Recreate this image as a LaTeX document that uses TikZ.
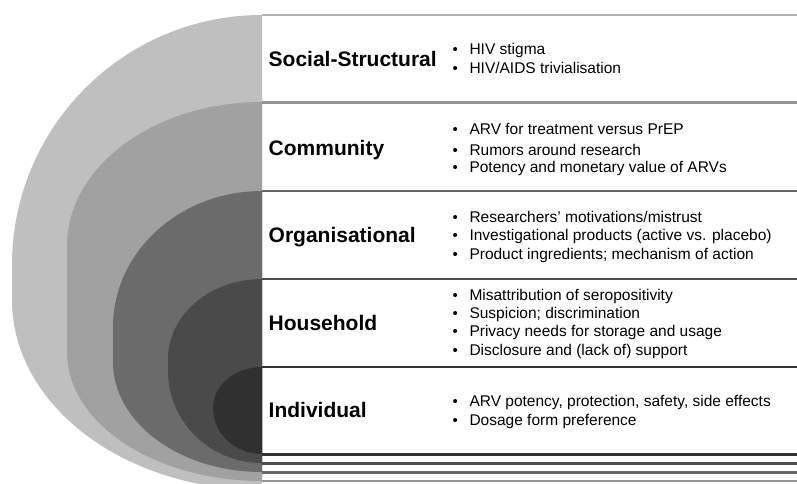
\documentclass[tikz,border=0pt]{standalone}
\usepackage{fontspec}
\setmainfont{Liberation Sans}
\definecolor{cA}{gray}{0.75}
\definecolor{cB}{gray}{0.63}
\definecolor{cC}{gray}{0.42}
\definecolor{cD}{gray}{0.29}
\definecolor{cE}{gray}{0.19}
\definecolor{lA}{gray}{0.70}
\definecolor{lB}{gray}{0.58}
\definecolor{lC}{gray}{0.40}
\definecolor{lD}{gray}{0.30}
\definecolor{lE}{gray}{0.20}
% layer: #1 fill, #2 half width, #3 top, #4 upper centre, #5 lower centre, #6 bottom
\newcommand\mylayer[6]{%
  \fill[#1] (262,-#3)
    arc[start angle=90,end angle=180,x radius=#2pt,y radius={(#4-#3)*1pt}]
    -- ({262-#2},-#5)
    arc[start angle=180,end angle=270,x radius=#2pt,y radius={(#6-#5)*1pt}]
    -- cycle;
}
\newcommand\itm[1]{\makebox[16.8pt][l]{\fontsize{15pt}{15pt}\selectfont\textbullet}#1}
\tikzset{
  lvl/.style={anchor=base west,inner sep=0pt,font=\fontsize{21pt}{21pt}\selectfont\bfseries},
  bul/.style={anchor=base west,inner sep=0pt,font=\fontsize{15.5pt}{15.5pt}\selectfont},
  sep/.style={line width=2.6pt}
}
\begin{document}
\begin{tikzpicture}[x=1pt,y=1pt]
\useasboundingbox (0,0) rectangle (797,-484);
\clip (0,0) rectangle (797,-484);
\fill[white] (0,0) rectangle (797,-484);
% layers
\mylayer{cA}{250}{15}{265}{300}{490}
\mylayer{cB}{195}{102}{246}{352}{481}
\mylayer{cC}{149}{191}{327}{362}{472}
\mylayer{cD}{94}{279}{359}{371}{463}
\mylayer{cE}{49}{367}{408}{408}{454}
% separators
\draw[sep,lA] (262,-15) -- (797,-15);
\draw[sep,lB] (262,-102.5) -- (797,-102.5);
\draw[sep,lC] (262,-191) -- (797,-191);
\draw[sep,lD] (262,-279) -- (797,-279);
\draw[sep,lE] (262,-367) -- (797,-367);
\draw[sep,lE] (262,-454.5) -- (797,-454.5);
\draw[sep,lD] (262,-463.3) -- (797,-463.3);
\draw[sep,lC] (262,-472.3) -- (797,-472.3);
\draw[sep,lB] (262,-481) -- (797,-481);
% labels
\node[lvl] (social) at (268.5,-66.5) {Social-Structural};
\node[lvl] (community) at (268.5,-155) {Community};
\node[lvl] (organisational) at (268.5,-242) {Organisational};
\node[lvl] (household) at (268.5,-330.7) {Household};
\node[lvl] (individual) at (268.5,-417) {Individual};
% bullets
\node[bul] (s1) at (452.5,-55) {\itm{HIV stigma}};
\node[bul] (s2) at (452.5,-74) {\itm{HIV/AIDS trivialisation}};
\node[bul] (c1) at (452.5,-134) {\itm{ARV for treatment versus PrEP}};
\node[bul] (c2) at (452.5,-155) {\itm{Rumors around research}};
\node[bul] (c3) at (452.5,-172.7) {\itm{Potency and monetary value of ARVs}};
\node[bul] (o1) at (452.5,-222) {\itm{Researchers’ motivations/mistrust}};
\node[bul] (o2) at (452.5,-240) {\itm{Investigational products (active vs. placebo)}};
\node[bul] (o3) at (452.5,-259) {\itm{Product ingredients; mechanism of action}};
\node[bul] (h1) at (452.5,-300) {\itm{Misattribution of seropositivity}};
\node[bul] (h2) at (452.5,-318.3) {\itm{Suspicion; discrimination}};
\node[bul] (h3) at (452.5,-336.7) {\itm{Privacy needs for storage and usage}};
\node[bul] (h4) at (452.5,-355) {\itm{Disclosure and (lack of) support}};
\node[bul] (i1) at (452.5,-406.7) {\itm{ARV potency, protection, safety, side effects}};
\node[bul] (i2) at (452.5,-425.7) {\itm{Dosage form preference}};
\end{tikzpicture}
\end{document}
